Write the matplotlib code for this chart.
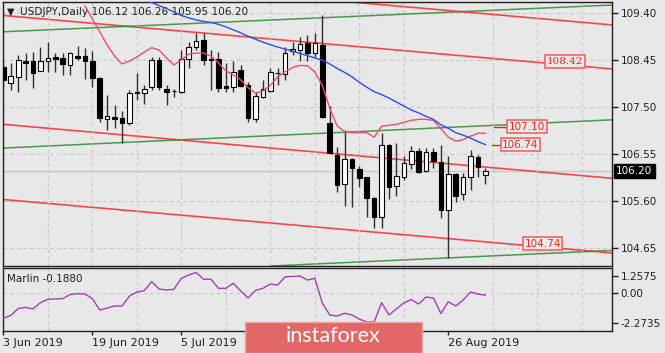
import numpy as np
from matplotlib import pyplot as pl
from matplotlib.patches import Rectangle

# daily candles, 3 Jun 2019 .. 2 Sep 2019 (bar index 0..65)
opens = [108.31, 107.99, 108.11, 108.42, 108.42, 108.23, 108.42, 108.52, 108.50, 108.35,
         108.54, 108.54, 108.43, 108.09, 107.26, 107.30, 107.27, 107.17, 107.79, 107.79,
         107.91, 108.45, 107.86, 107.82, 107.81, 108.46, 108.71, 108.85, 108.44, 108.46,
         107.92, 107.91, 108.25, 107.94, 107.25, 107.71, 107.83, 108.18, 108.16, 108.63,
         108.65, 108.79, 108.59, 108.75, 107.17, 106.53, 105.94, 106.45, 106.24, 106.08,
         105.67, 105.27, 106.73, 105.90, 106.09, 106.35, 106.62, 106.21, 106.60, 106.39,
         105.42, 106.15, 105.74, 106.09, 106.48, 106.12]
highs = [108.45, 108.38, 108.55, 108.59, 108.62, 108.72, 108.81, 108.59, 108.59, 108.62,
         108.73, 108.69, 108.64, 108.11, 107.74, 107.55, 107.42, 107.84, 108.18, 107.94,
         108.52, 108.52, 107.94, 107.86, 108.65, 108.82, 108.99, 108.99, 108.65, 108.62,
         108.38, 108.42, 108.35, 108.01, 107.81, 108.05, 108.29, 108.28, 108.72, 108.82,
         108.92, 108.96, 109.00, 109.36, 107.51, 106.70, 107.04, 106.46, 106.31, 106.09,
         105.69, 106.98, 106.75, 106.78, 106.50, 106.71, 106.67, 106.67, 106.67, 106.73,
         106.50, 106.16, 106.16, 106.63, 106.53, 106.26]
lows = [107.88, 107.84, 107.81, 108.05, 107.88, 108.22, 108.21, 108.21, 108.15, 108.15,
        108.45, 108.07, 107.90, 107.20, 107.03, 107.07, 106.78, 107.14, 107.64, 107.56,
        107.84, 107.84, 107.54, 107.71, 107.79, 108.28, 108.65, 108.35, 107.84, 107.81,
        107.81, 107.81, 107.91, 107.20, 107.20, 107.68, 107.81, 107.94, 108.05, 108.55,
        108.42, 108.42, 108.52, 107.27, 106.56, 105.79, 105.50, 105.48, 105.89, 105.28,
        105.05, 105.05, 105.65, 105.70, 106.02, 106.24, 106.16, 106.19, 106.26, 105.25,
        104.45, 105.57, 105.63, 105.82, 106.09, 105.95]
closes = [108.05, 108.13, 108.45, 108.39, 108.18, 108.43, 108.50, 108.47, 108.36, 108.59,
          108.50, 108.43, 108.08, 107.27, 107.32, 107.26, 107.17, 107.78, 107.81, 107.86,
          108.44, 107.91, 107.81, 107.83, 108.46, 108.71, 108.83, 108.44, 108.48, 107.89,
          107.88, 108.21, 107.92, 107.27, 107.72, 107.86, 108.20, 108.19, 108.60, 108.67,
          108.77, 108.60, 108.79, 107.30, 106.58, 105.92, 106.44, 106.26, 106.06, 105.67,
          105.28, 106.73, 105.89, 106.11, 106.36, 106.62, 106.19, 106.60, 106.41, 105.42,
          106.14, 105.71, 106.09, 106.50, 106.28, 106.20]

# moving averages (red from bar 11, blue from bar 18)
ma_red_start = 11
ma_red = [109.54, 109.28, 109.02, 108.75, 108.53, 108.37, 108.43, 108.51, 108.61, 108.70,
          108.65, 108.49, 108.35, 108.45, 108.57, 108.59, 108.59, 108.53, 108.39, 108.23,
          108.15, 108.05, 107.89, 107.78, 107.82, 107.94, 108.11, 108.21, 108.30, 108.34,
          108.33, 108.21, 107.94, 107.48, 107.12, 107.00, 106.98, 106.98, 106.98, 106.89,
          107.11, 107.13, 107.15, 107.19, 107.23, 107.25, 107.25, 107.23, 107.06, 106.89,
          106.81, 106.84, 106.91, 106.97, 106.97]
ma_blue_start = 18
ma_blue = [109.72, 109.67, 109.61, 109.55, 109.49, 109.42, 109.35, 109.30, 109.26, 109.23,
           109.21, 109.17, 109.12, 109.06, 109.00, 108.93, 108.87, 108.81, 108.76, 108.71,
           108.67, 108.63, 108.58, 108.54, 108.49, 108.45, 108.37, 108.28, 108.20, 108.11,
           108.00, 107.90, 107.81, 107.75, 107.68, 107.60, 107.52, 107.44, 107.38, 107.31,
           107.25, 107.14, 107.07, 106.98, 106.93, 106.87, 106.80, 106.74]

# Marlin oscillator
marlin = [-1.92, -1.71, -1.19, -1.10, -1.22, -0.75, -0.50, -0.47, -0.45, -0.14,
          -0.07, -0.10, -0.44, -1.30, -1.15, -1.00, -1.00, -0.25, 0.05, 0.15,
          0.83, 0.28, 0.20, 0.26, 1.08, 1.33, 1.52, 1.01, 1.01, 0.33,
          0.33, 0.71, 0.13, -0.40, 0.17, 0.33, 0.65, 0.58, 1.20, 1.22,
          1.25, 0.95, 1.08, -0.77, -1.67, -1.75, -1.55, -1.67, -1.98, -2.20,
          -2.20, -0.75, -1.67, -1.22, -0.77, -0.51, -0.85, -0.32, -0.40, -1.56,
          -0.68, -1.00, -0.55, 0.05, -0.10, -0.188]

# trend lines: price at bar 0 and at bar 82
red_lines = [(110.24, 109.16), (109.35, 108.27), (107.15, 106.06), (105.63, 104.55)]
green_lines = [(109.02, 109.56), (106.67, 107.24), (104.04, 104.60)]
line_bars = (0, 82)

# price labels on the chart
label_texts = ['108.42', '107.10', '106.74', '104.74']
label_prices = [108.42, 107.10, 106.74, 104.74]
label_bars = [75.7, 70.6, 69.7, 72.7]

price_ticks = [109.40, 108.45, 107.50, 106.55, 105.60, 104.65]
marlin_ticks = [1.2575, 0.0, -2.2735]
marlin_ticklabels = ['1.2575', '0.00', '-2.2735']
date_ticks = [0, 12, 24, 36, 48, 60]
# labels at bars 36 and 48 sit under the watermark in the original
date_labels = ['3 Jun 2019', '19 Jun 2019', '5 Jul 2019', '', '', '26 Aug 2019']
title = 'USDJPY,Daily 106.12 106.26 105.95 106.20'
last_price = 106.20
marlin_last = -0.1880

bg = '#E8E8E8'
W, H = 665, 353
fig = pl.figure(figsize=(W / 100, H / 100), dpi=100, facecolor=bg)
ax = fig.add_axes([3 / W, 1 - 266 / H, 609 / W, 264 / H], facecolor=bg)
ax2 = fig.add_axes([3 / W, 1 - 331 / H, 609 / W, 63 / H], facecolor=bg)

xmax = 82.07
for a in (ax, ax2):
    a.set_xlim(-0.05, xmax)
    for s in a.spines.values():
        s.set_color('#202020')
        s.set_linewidth(1)
    a.set_xticks(np.arange(6, 82, 6), minor=True)
    a.grid(True, which='minor', axis='x', color='#C4C4C4', linestyle=(0, (3, 3)), linewidth=0.8)

# main panel
ax.set_ylim(104.286, 109.622)
for p in price_ticks:
    ax.axhline(p, color='#C4C4C4', linestyle=(0, (3, 3)), linewidth=0.8, zorder=0)
ax.axhline(last_price, color='#C8C8C8', linewidth=1, zorder=0)

for y0, y1 in red_lines:
    ax.axline((line_bars[0], y0), (line_bars[1], y1), color='#FF2A2A', linewidth=1.2, alpha=0.85, zorder=1)
for y0, y1 in green_lines:
    ax.axline((line_bars[0], y0), (line_bars[1], y1), color='#2E8A2E', linewidth=1.1, alpha=0.85, zorder=1)

n = len(opens)
x = np.arange(n)
o = np.array(opens)
c = np.array(closes)
ax.vlines(x, lows, highs, color='#303030', linewidth=1, zorder=2)
up = c >= o
body = np.maximum(np.abs(c - o), 0.012)
ax.bar(x, body, bottom=np.minimum(o, c), width=0.62,
       color=np.where(up, 'white', 'black'), edgecolor='black', linewidth=0.8, zorder=3)

ax.plot(np.arange(ma_red_start, ma_red_start + len(ma_red)), ma_red, color='#E8506E', linewidth=1, zorder=4)
ax.plot(np.arange(ma_blue_start, ma_blue_start + len(ma_blue)), ma_blue, color='#2F4CF0', linewidth=1, zorder=4)

for t, p, b in zip(label_texts, label_prices, label_bars):
    fam = 'DejaVu Serif' if t == '108.42' else 'DejaVu Sans'
    ax.text(b, p, t, color='#FF2020', fontsize=7.5, family=fam, ha='center', va='center', zorder=6,
            bbox=dict(boxstyle='square,pad=0.15', facecolor=bg, edgecolor='#FF6060', linewidth=1.2))
# short markers left of the MA labels
ax.plot([66.1, 68.2], [107.10, 107.10], color='#FF2020', linewidth=1, zorder=5)
ax.plot([65.9, 67.1], [106.73, 106.73], color='#FF2020', linewidth=1, zorder=5)

ax.yaxis.tick_right()
ax.set_yticks(price_ticks)
ax.set_yticklabels(['%.2f' % p for p in price_ticks])
ax.tick_params(axis='y', length=4, width=1, pad=2, labelsize=7.5, colors='#202020')
ax.tick_params(axis='x', which='both', length=0, labelbottom=False)

ax.annotate('%.2f' % last_price, xy=(1, last_price), xycoords=('axes fraction', 'data'),
            xytext=(3, 0), textcoords='offset points', color='white', fontsize=7.5, va='center', ha='left',
            bbox=dict(boxstyle='square,pad=0.2', facecolor='black', edgecolor='black'), annotation_clip=False)

ax.text(0.006, 0.962, '▼', transform=ax.transAxes, fontsize=7, va='center', ha='left', color='#202020')
ax.text(0.028, 0.962, title, transform=ax.transAxes, fontsize=7.6, va='center', ha='left', color='#202020')

# Marlin panel
ax2.set_ylim(-2.876, 1.855)
ax2.axhline(0, color='#C4C4C4', linestyle=(0, (3, 3)), linewidth=0.8, zorder=0)
ax2.plot(x[:len(marlin)], marlin, color='#A53DB8', linewidth=1, zorder=3)
ax2.yaxis.tick_right()
ax2.set_yticks(marlin_ticks)
ax2.set_yticklabels(marlin_ticklabels)
ax2.tick_params(axis='y', length=4, width=1, pad=2, labelsize=7.5, colors='#202020')
ax2.set_xticks(date_ticks)
ax2.set_xticklabels(date_labels, ha='left')
ax2.tick_params(axis='x', which='major', length=3, width=1, pad=2, labelsize=8, colors='#202020')
ax2.tick_params(axis='x', which='minor', length=0)
ax2.text(0.007, 0.83, 'Marlin %.4f' % marlin_last, transform=ax2.transAxes, fontsize=7.5,
         va='center', ha='left', color='#202020')

# watermark
fig.patches.append(Rectangle((245 / W, 0), 177 / W, 31 / H, transform=fig.transFigure,
                             facecolor='#E26868', edgecolor='#F2A0A0', linewidth=1, zorder=10))
fig.text(333 / W, 1 - 336 / H, 'instaforex', color='white', fontsize=15.5, family='Lato',
         ha='center', va='center', zorder=11)

pl.savefig('out.png', dpi=100, facecolor=bg)
